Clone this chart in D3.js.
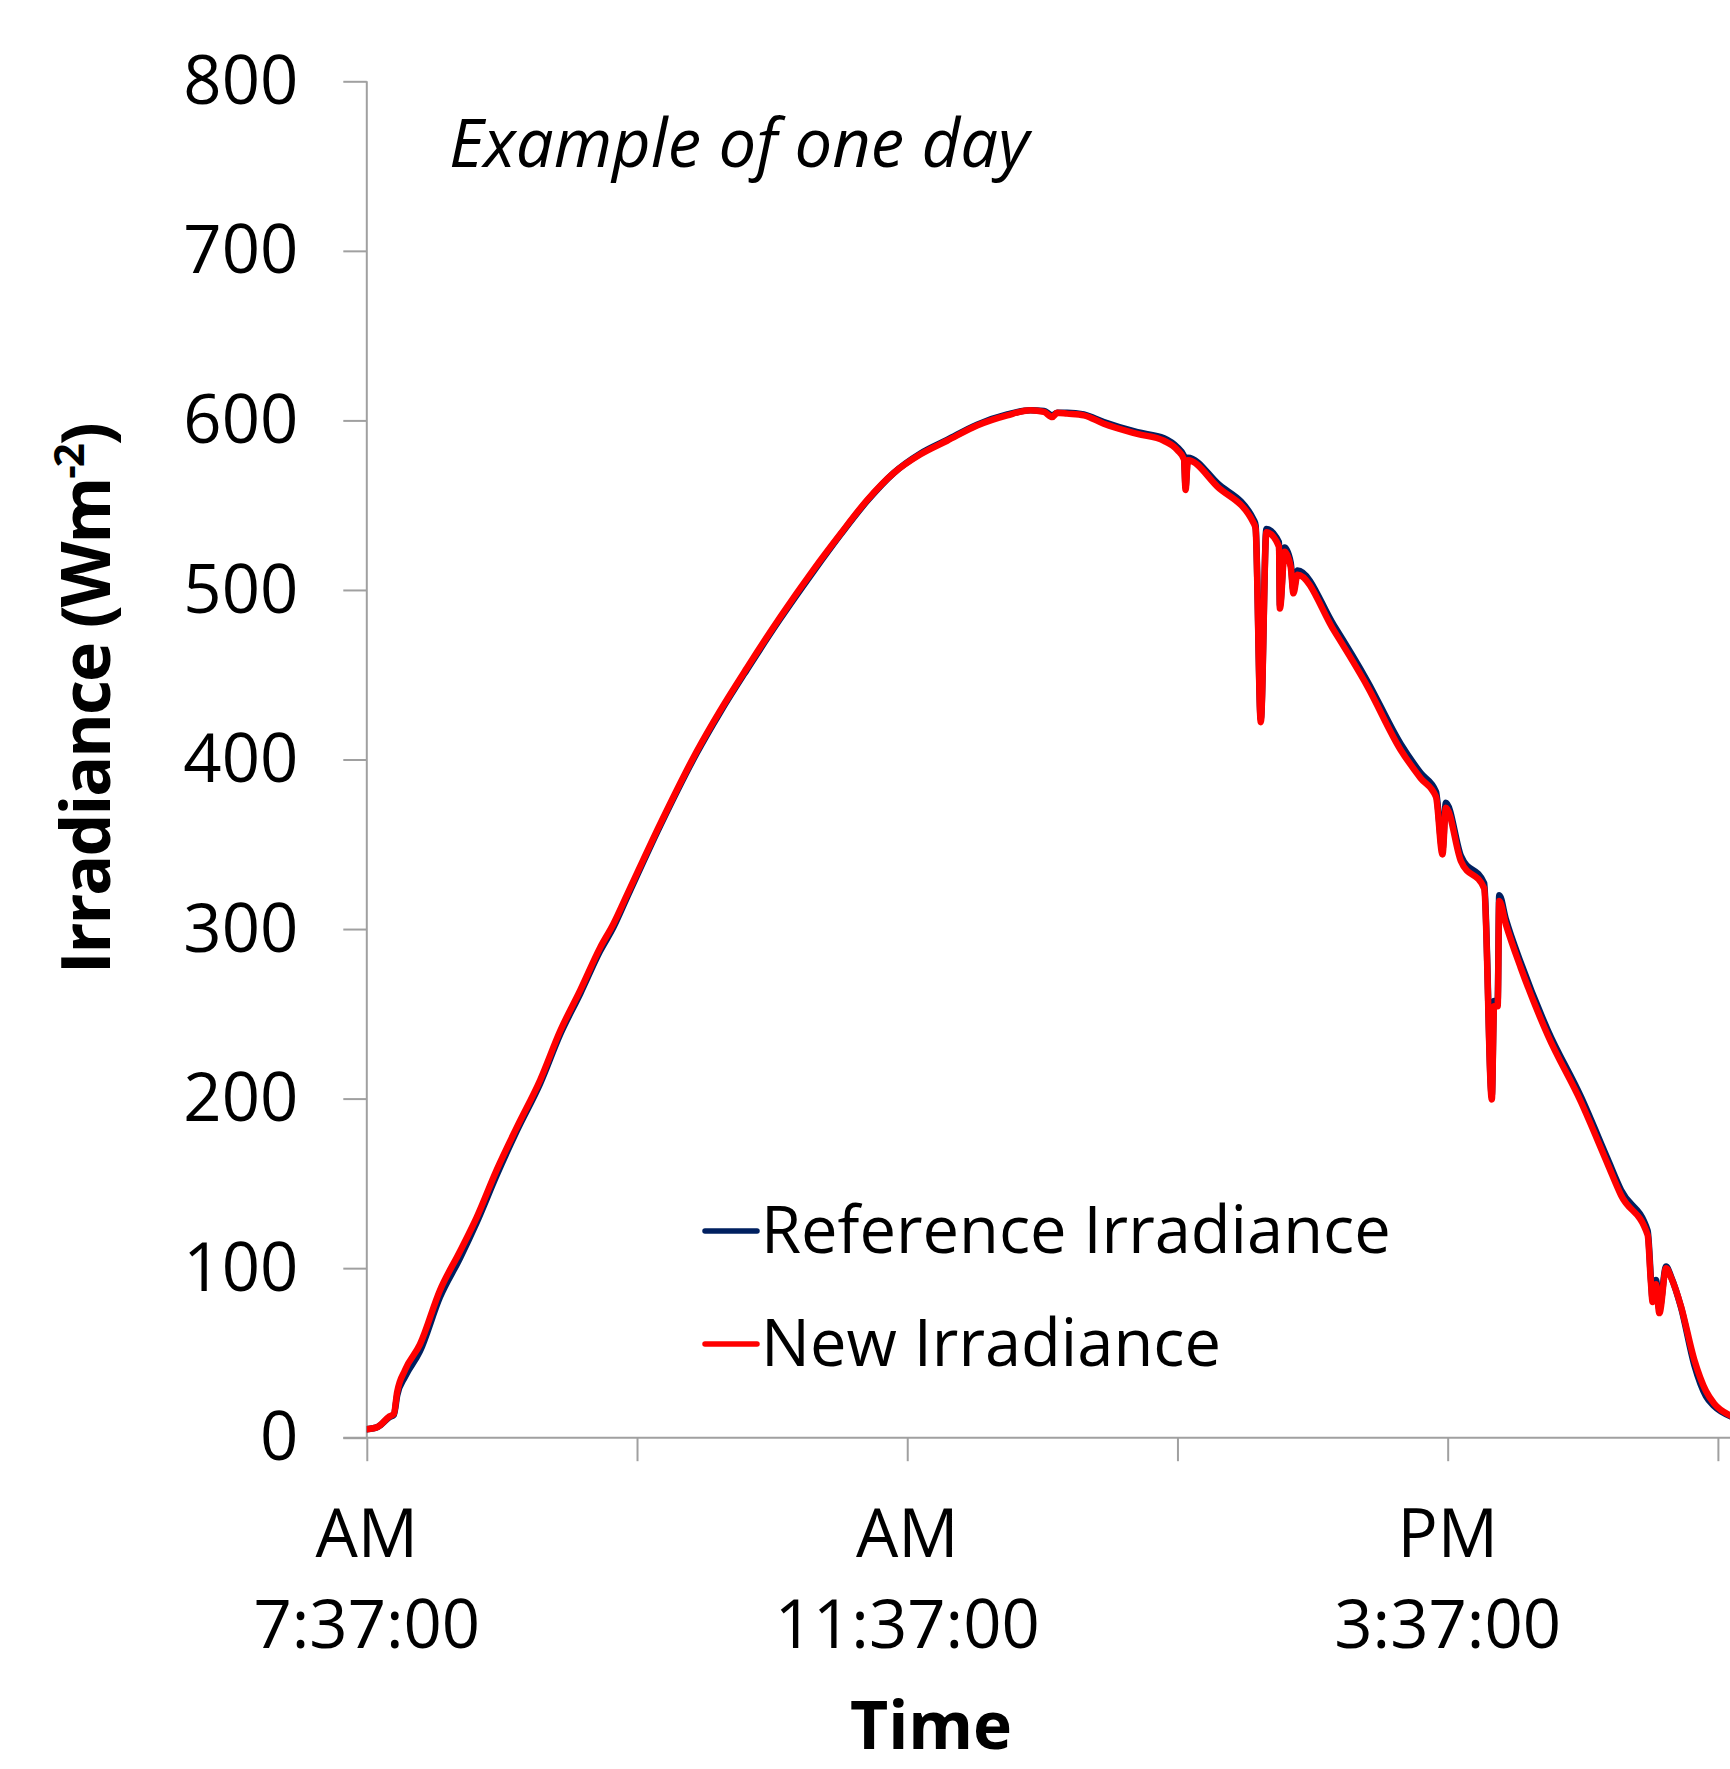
<!DOCTYPE html>
<html>
<head>
<meta charset="utf-8">
<script src="https://cdn.jsdelivr.net/npm/d3@7"></script>
<style>
  html, body { margin: 0; padding: 0; background: #ffffff; }
  svg { display: block; }
  text { font-family: "Open Sans", "Noto Sans", sans-serif; fill: #000; }
</style>
</head>
<body>
<div id="chart"></div>
<script>
// ---- Data ----
// minutes after 7:37:00 AM
const minutesAfterStart = [0, 5, 10, 12, 13.5, 17, 23.6, 32.5, 41.4, 48.8,
  57.7, 66.6, 77, 85.9, 94.8, 103.6, 109.5, 115.5, 130.3, 146.6,
  157, 168.8, 183.6, 198.4, 210.3, 222.2, 234, 245.9, 257.7, 271,
  284.4, 294.7, 300.7, 304.4, 306.6, 311, 318.4, 327.3, 342.2, 354,
  360, 362.9, 363.6, 364.6, 377.7, 394, 394.7, 397, 399.5, 405.1,
  405.5, 407.6, 410.3, 411.5, 413.3, 429.5, 444.4, 459.2, 468, 474.8,
  477.7, 479.2, 485.9, 496.2, 499.6, 500.6, 502.2, 502.9, 505.8, 512.5,
  524.4, 539.2, 551, 557, 568.8, 570.3, 571, 572.5, 574, 577,
  579.2, 583.6, 589.5, 594.7, 598.4, 605.8];

const referenceIrradiance = [5, 6.5, 12, 13.5, 25, 36, 51, 83, 106, 127,
  155, 181, 209, 238, 262, 287, 301, 318.5, 361, 404,
  428, 453, 483, 511, 532.5, 552.5, 569, 580.5, 588.5, 597.5,
  603.5, 606, 605.5, 603, 604.5, 604.5, 603.5, 599, 593, 589.5,
  584, 579, 561, 578, 563, 541, 538, 424, 536, 528,
  491, 525, 516, 500, 511.5, 479, 446, 409, 392, 381,
  347, 374.5, 343, 327, 202, 257.5, 257.5, 320, 306, 280,
  240.5, 201, 164.5, 146, 122, 93, 82, 93, 76, 101,
  95, 77, 43, 24.5, 18.5, 12.5];

const newIrradiance = [5, 6.5, 12.5, 14, 27, 40, 55, 87, 110, 130,
  158, 183, 211, 240, 264, 289, 303, 320, 362, 405,
  429, 454, 484, 512, 533, 553, 569, 580, 588, 597,
  603, 606, 605, 602, 604.5, 604, 603, 598, 592, 588,
  582.5, 577, 559, 576.5, 561, 539, 536, 422, 534, 525.5,
  489, 522.5, 513.5, 498, 509, 476, 443, 405.5, 389, 378,
  344, 371.5, 340, 324, 199.5, 254.5, 254.5, 316.5, 303, 277,
  237.5, 198, 161.5, 143, 119.5, 90.5, 80, 90.5, 73.5, 100,
  94.5, 77.5, 46, 27.5, 20, 13];

const seriesNames = ["Reference Irradiance", "New Irradiance"];
const seriesColors = ["#002060", "#FF0000"];

const xTickMinutes = [0, 120, 240, 360, 480, 600];
const xTickLabels = ["7:37:00 AM", "", "11:37:00 AM", "", "3:37:00 PM", ""];
const yTicks = [0, 100, 200, 300, 400, 500, 600, 700, 800];

const chartNote = "Example of one day";
const xTitle = "Time";

// ---- Layout ----
const W = 1730, H = 1769;
const plot = { left: 366.8, right: 1717.9, top: 81.3, bottom: 1437.7 };
const tickLen = 23.5;
const axisColor = "#A0A0A0";

const svg = d3.select("#chart").append("svg")
  .attr("width", W).attr("height", H)
  .attr("viewBox", `0 0 ${W} ${H}`);

const x = d3.scaleLinear().domain([0, 600]).range([plot.left, plot.right]);
const y = d3.scaleLinear().domain([0, 800]).range([plot.bottom, plot.top]);

// Y axis
const yAxis = d3.axisLeft(y).tickValues(yTicks).tickSize(tickLen).tickPadding(45).tickSizeOuter(0);
const gy = svg.append("g").attr("transform", `translate(${plot.left},0)`).call(yAxis);
gy.select(".domain").remove();
gy.selectAll(".tick line").attr("stroke", axisColor).attr("stroke-width", 2);
gy.selectAll(".tick text")
  .attr("font-family", '"Open Sans", sans-serif')
  .attr("font-size", 67).attr("fill", "#000")
  .attr("dy", "0.33em");

svg.append("line")
  .attr("x1", plot.left).attr("x2", plot.left)
  .attr("y1", y(0)).attr("y2", y(800))
  .attr("stroke", axisColor).attr("stroke-width", 2);

// X axis
const xAxis = d3.axisBottom(x).tickValues(xTickMinutes).tickSize(tickLen).tickSizeOuter(0).tickFormat("");
const gx = svg.append("g").attr("transform", `translate(0,${plot.bottom})`).call(xAxis);
gx.select(".domain").remove();
gx.selectAll(".tick line").attr("stroke", axisColor).attr("stroke-width", 2);

svg.append("line")
  .attr("x1", plot.left - tickLen).attr("x2", W)
  .attr("y1", y(0)).attr("y2", y(0))
  .attr("stroke", axisColor).attr("stroke-width", 2);

// X tick labels: period on top line, clock time below
xTickMinutes.forEach((m, i) => {
  const lab = xTickLabels[i];
  if (!lab) return;
  const parts = lab.split(" ");
  const t = svg.append("text")
    .attr("text-anchor", "middle")
    .attr("font-size", 67);
  t.append("tspan").attr("x", x(m)).attr("y", 1557).text(parts[1]);
  t.append("tspan").attr("x", x(m)).attr("y", 1648).text(parts[0]);
});

// Lines
const data = minutesAfterStart.map((m, i) => ({ m, ref: referenceIrradiance[i], nw: newIrradiance[i] }));
svg.append("clipPath").attr("id", "clip")
  .append("rect").attr("x", plot.left).attr("y", 0).attr("width", W - plot.left).attr("height", plot.bottom);

const lineRef = d3.line().x(d => x(d.m)).y(d => y(d.ref)).curve(d3.curveMonotoneX);
const lineNew = d3.line().x(d => x(d.m)).y(d => y(d.nw)).curve(d3.curveMonotoneX);

const gl = svg.append("g").attr("clip-path", "url(#clip)");
gl.append("path").datum(data).attr("d", lineRef)
  .attr("fill", "none").attr("stroke", seriesColors[0]).attr("stroke-width", 6.5)
  .attr("stroke-linejoin", "round").attr("stroke-linecap", "round");
gl.append("path").datum(data).attr("d", lineNew)
  .attr("fill", "none").attr("stroke", seriesColors[1]).attr("stroke-width", 6.5)
  .attr("stroke-linejoin", "round").attr("stroke-linecap", "round");

// Legend
const legendY = [1231, 1344];
seriesNames.forEach((name, i) => {
  svg.append("line")
    .attr("x1", 705).attr("x2", 757)
    .attr("y1", legendY[i]).attr("y2", legendY[i])
    .attr("stroke", seriesColors[i]).attr("stroke-width", 5.5)
    .attr("stroke-linecap", "round");
  svg.append("text")
    .attr("x", 761).attr("y", legendY[i] + 22)
    .attr("font-size", 65)
    .text(name);
});

// Note
svg.append("text")
  .attr("x", 449).attr("y", 167)
  .attr("font-size", 67).attr("font-style", "italic")
  .text(chartNote);

// Axis titles
const yt = svg.append("text")
  .attr("transform", "translate(110,699) rotate(-90)")
  .attr("text-anchor", "middle")
  .attr("font-size", 68).attr("font-weight", "bold")
  .attr("letter-spacing", -2);
yt.append("tspan").text("Irradiance (Wm");
yt.append("tspan").attr("font-size", 42).attr("dy", -26).text("-2");
yt.append("tspan").attr("dy", 26).text(")");

svg.append("text")
  .attr("x", 931).attr("y", 1749)
  .attr("text-anchor", "middle")
  .attr("font-size", 66).attr("font-weight", "bold")
  .text(xTitle);
</script>
</body>
</html>
